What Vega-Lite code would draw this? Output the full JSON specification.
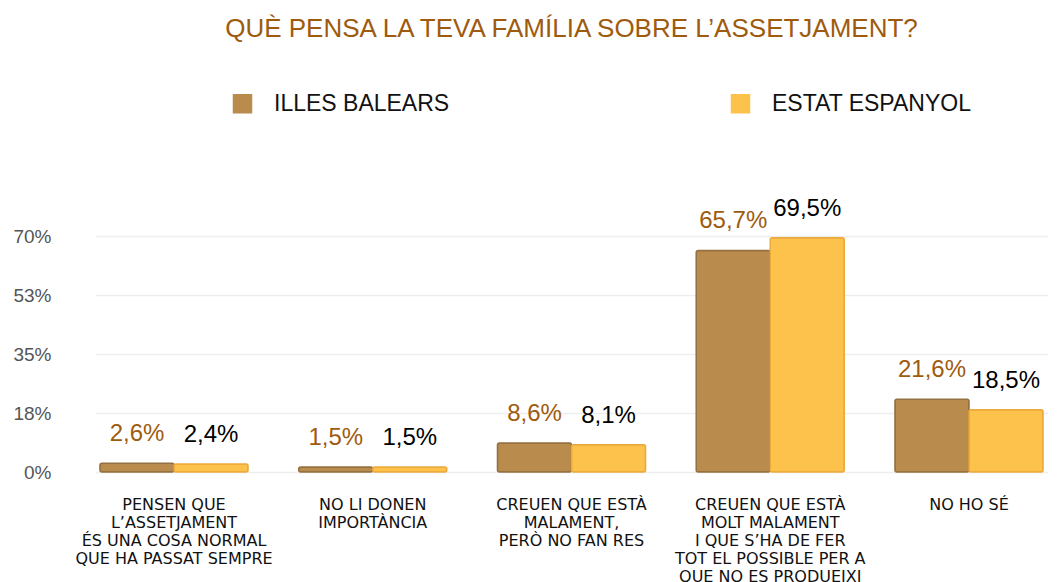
{
  "$schema": "https://vega.github.io/schema/vega-lite/v6.json",
  "width": 953,
  "height": 236,
  "autosize": "none",
  "padding": {"left": 95, "top": 236, "right": 9, "bottom": 110},
  "background": "white",
  "title": {
    "text": "QUÈ PENSA LA TEVA FAMÍLIA SOBRE L’ASSETJAMENT?",
    "font": "Liberation Sans",
    "fontSize": 26,
    "fontWeight": "normal",
    "color": "#9E5B0E",
    "anchor": "middle",
    "offset": 50
  },
  "data": {
    "values": [
      {"category": "PENSEN QUE|L’ASSETJAMENT|ÉS UNA COSA NORMAL|QUE HA PASSAT SEMPRE", "region": "ILLES BALEARS", "value": 2.6},
      {"category": "PENSEN QUE|L’ASSETJAMENT|ÉS UNA COSA NORMAL|QUE HA PASSAT SEMPRE", "region": "ESTAT ESPANYOL", "value": 2.4},
      {"category": "NO LI DONEN|IMPORTÀNCIA", "region": "ILLES BALEARS", "value": 1.5},
      {"category": "NO LI DONEN|IMPORTÀNCIA", "region": "ESTAT ESPANYOL", "value": 1.5},
      {"category": "CREUEN QUE ESTÀ|MALAMENT,|PERÒ NO FAN RES", "region": "ILLES BALEARS", "value": 8.6},
      {"category": "CREUEN QUE ESTÀ|MALAMENT,|PERÒ NO FAN RES", "region": "ESTAT ESPANYOL", "value": 8.1},
      {"category": "CREUEN QUE ESTÀ|MOLT MALAMENT|I QUE S’HA DE FER|TOT EL POSSIBLE PER A|QUE NO ES PRODUEIXI", "region": "ILLES BALEARS", "value": 65.7},
      {"category": "CREUEN QUE ESTÀ|MOLT MALAMENT|I QUE S’HA DE FER|TOT EL POSSIBLE PER A|QUE NO ES PRODUEIXI", "region": "ESTAT ESPANYOL", "value": 69.5},
      {"category": "NO HO SÉ", "region": "ILLES BALEARS", "value": 21.6},
      {"category": "NO HO SÉ", "region": "ESTAT ESPANYOL", "value": 18.5}
    ]
  },
  "transform": [
    {"calculate": "replace(format(datum.value, '.1f'), '.', ',') + '%'", "as": "label"}
  ],
  "encoding": {
    "x": {
      "field": "category",
      "type": "nominal",
      "sort": null,
      "scale": {"paddingInner": 0.255, "paddingOuter": 0.025},
      "axis": {
        "title": null,
        "labelAngle": 0,
        "domain": false,
        "ticks": false,
        "labelExpr": "split(datum.label, '|')",
        "labelFont": "DejaVu Sans",
        "labelFontSize": 16,
        "labelColor": "#111111",
        "labelLineHeight": 18,
        "labelBaseline": "top",
        "labelPadding": 24,
        "labelLimit": 400
      }
    },
    "xOffset": {
      "field": "region",
      "type": "nominal",
      "sort": ["ILLES BALEARS", "ESTAT ESPANYOL"],
      "scale": {"paddingInner": 0, "paddingOuter": 0}
    },
    "y": {
      "field": "value",
      "type": "quantitative",
      "scale": {"domain": [0, 70], "nice": false},
      "axis": {
        "title": null,
        "values": [0, 17.5, 35, 52.5, 70],
        "labelExpr": "format(datum.value, '.0f') + '%'",
        "domain": false,
        "ticks": false,
        "labelPadding": 44,
        "labelFont": "Liberation Sans",
        "labelFontSize": 19,
        "labelColor": "#555555",
        "gridColor": "#EEEEEE",
        "gridWidth": 1.5
      }
    }
  },
  "layer": [
    {
      "mark": {"type": "bar", "cornerRadius": 2, "strokeWidth": 1.5},
      "encoding": {
        "color": {
          "field": "region",
          "type": "nominal",
          "scale": {"domain": ["ILLES BALEARS", "ESTAT ESPANYOL"], "range": ["#B98B4C", "#FDC24B"]},
          "legend": {
            "title": null,
            "orient": "none",
            "direction": "horizontal",
            "legendX": 136,
            "legendY": -144,
            "symbolType": "square",
            "symbolSize": 380,
            "symbolStrokeWidth": 0,
            "labelFont": "Liberation Sans",
            "labelFontSize": 23,
            "labelColor": "#111111",
            "labelOffset": 20,
            "columnPadding": 279,
            "padding": 0,
            "labelLimit": 400
          }
        },
        "stroke": {
          "field": "region",
          "type": "nominal",
          "scale": {"domain": ["ILLES BALEARS", "ESTAT ESPANYOL"], "range": ["#957040", "#EBAA3C"]},
          "legend": null
        }
      }
    },
    {
      "mark": {"type": "text", "baseline": "bottom", "dy": -17, "font": "Liberation Sans", "fontSize": 24},
      "encoding": {
        "text": {"field": "label"},
        "color": {
          "condition": {"test": "datum.region === 'ILLES BALEARS'", "value": "#9E5B0E"},
          "value": "#000000"
        }
      }
    }
  ],
  "config": {
    "view": {"stroke": null}
  }
}
